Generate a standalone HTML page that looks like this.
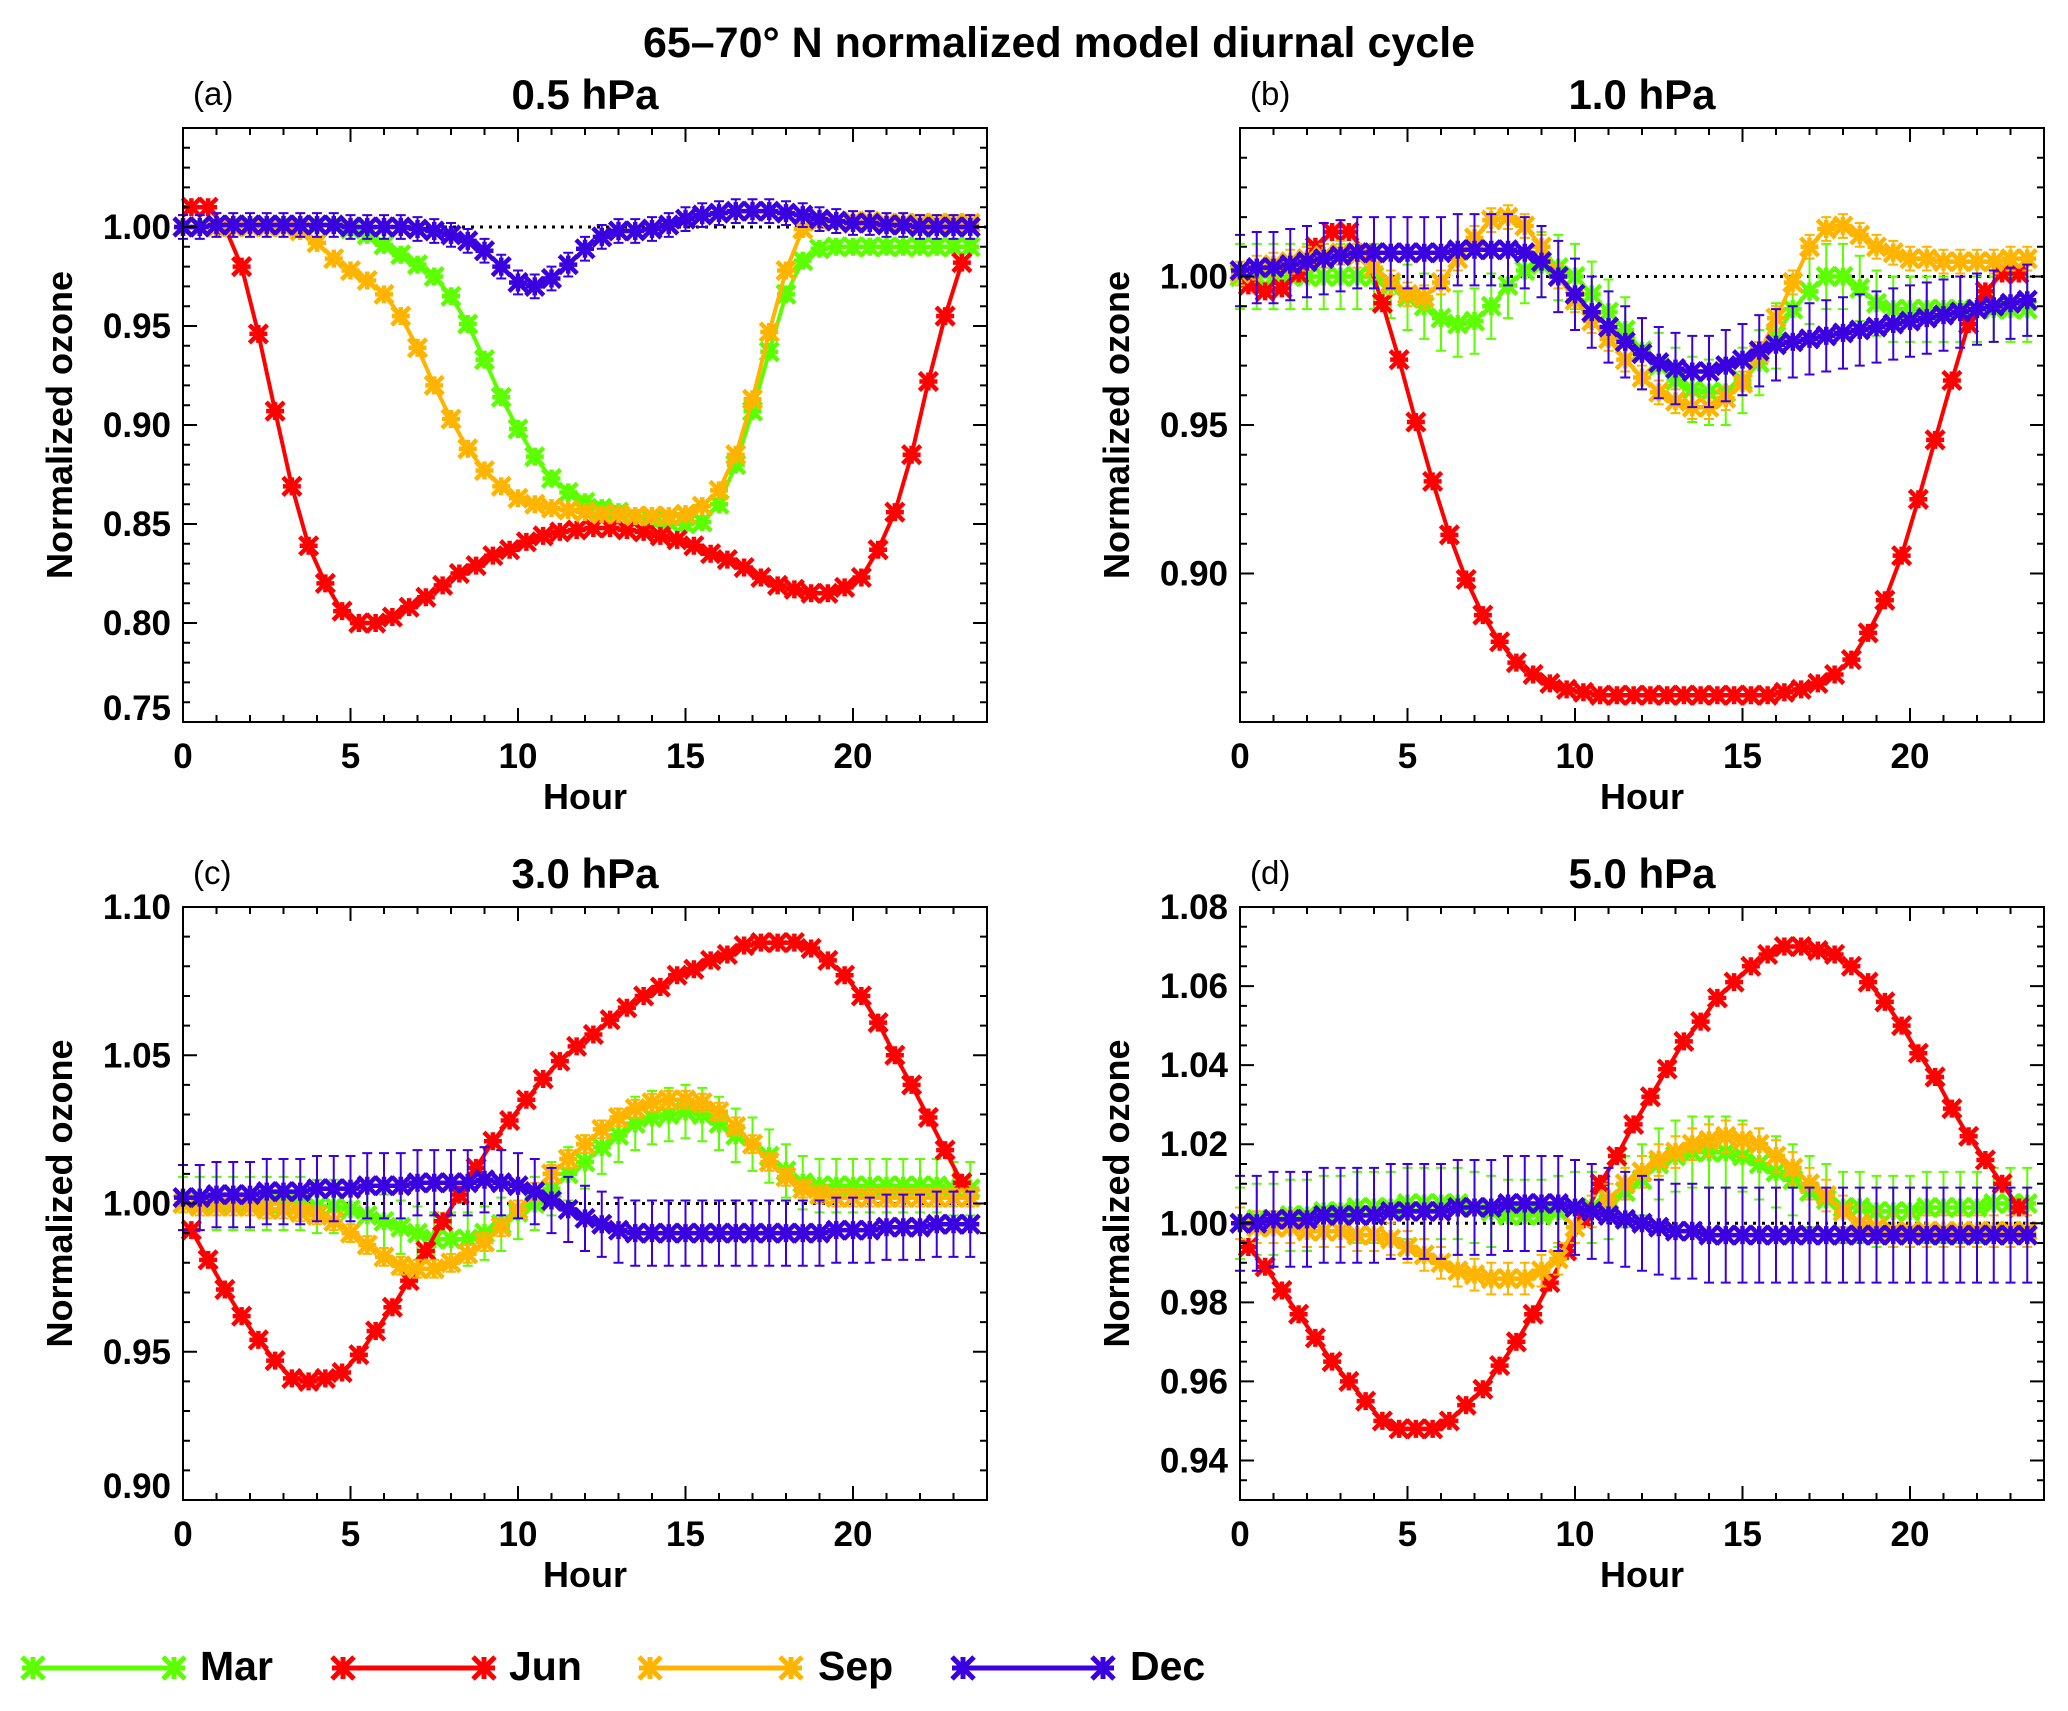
<!DOCTYPE html>
<html><head><meta charset="utf-8"><style>
html,body{margin:0;padding:0;background:#fff;}
svg{display:block;font-family:"Liberation Sans",Arial,sans-serif;}
</style></head><body>
<svg id="chart" width="2068" height="1711" viewBox="0 0 2068 1711" xmlns="http://www.w3.org/2000/svg">
<rect width="2068" height="1711" fill="#fff"/>
<text x="1059" y="57" text-anchor="middle" font-size="43" font-weight="bold">65–70° N normalized model diurnal cycle</text>
<g id="panels"></g>
<g id="legend"></g>
</svg>
<script>
const hours=[];for(let i=0;i<48;i++)hours.push(i*0.5);
const hoursJun=[];for(let i=0;i<47;i++)hoursJun.push(0.25+i*0.5);
const months=["Mar","Jun","Sep","Dec"];
const colors=["#5dff00","#ff0000","#ffb400","#3a00e0"];
const panelTitles=["0.5 hPa","1.0 hPa","3.0 hPa","5.0 hPa"];
const panelLetters=["(a)","(b)","(c)","(d)"];
const xTicks=[0,5,10,15,20];

// Panel a
const aMar=[1.000,1.000,1.000,1.001,1.001,1.001,1.001,1.001,1.001,1.001,0.999,0.996,0.991,0.986,0.981,0.975,0.965,0.951,0.933,0.914,0.898,0.884,0.873,0.866,0.861,0.858,0.856,0.854,0.852,0.851,0.850,0.851,0.860,0.880,0.907,0.937,0.966,0.983,0.989,0.990,0.990,0.990,0.990,0.990,0.990,0.990,0.990,0.990];
const aJun=[1.010,1.010,1.000,0.980,0.946,0.907,0.869,0.839,0.820,0.806,0.800,0.800,0.803,0.808,0.813,0.819,0.825,0.829,0.834,0.837,0.841,0.844,0.846,0.847,0.848,0.848,0.847,0.846,0.844,0.842,0.839,0.835,0.832,0.828,0.823,0.819,0.817,0.815,0.815,0.818,0.823,0.837,0.856,0.885,0.922,0.955,0.982];
const aSep=[1.000,1.000,1.000,1.000,1.000,1.000,1.000,0.998,0.992,0.984,0.978,0.973,0.966,0.955,0.939,0.920,0.903,0.888,0.877,0.869,0.863,0.860,0.858,0.857,0.856,0.855,0.855,0.854,0.854,0.854,0.855,0.859,0.867,0.885,0.913,0.947,0.978,0.999,1.003,1.003,1.003,1.003,1.002,1.002,1.002,1.002,1.002,1.002];
const aDec=[1.000,1.000,1.001,1.001,1.001,1.001,1.001,1.001,1.001,1.001,1.000,1.000,1.000,1.000,0.999,0.998,0.996,0.993,0.988,0.980,0.972,0.970,0.974,0.981,0.989,0.995,0.998,0.998,0.999,1.001,1.004,1.006,1.007,1.008,1.008,1.008,1.007,1.006,1.004,1.003,1.002,1.002,1.001,1.001,1.000,1.000,1.000,1.000];
const aErr=[0.003,0.0,0.002,0.006];
// Panel b
const bMar=[1.000,1.000,1.000,1.000,1.000,1.000,1.000,1.000,1.000,0.997,0.993,0.990,0.986,0.984,0.985,0.990,0.997,1.002,1.004,1.003,1.000,0.994,0.988,0.982,0.975,0.970,0.965,0.962,0.961,0.961,0.965,0.971,0.980,0.989,0.995,1.000,1.000,0.996,0.991,0.989,0.989,0.989,0.989,0.989,0.989,0.989,0.989,0.989];
const bJun=[0.997,0.995,0.996,1.001,1.010,1.015,1.015,1.008,0.991,0.972,0.951,0.931,0.913,0.898,0.886,0.877,0.870,0.866,0.863,0.861,0.860,0.859,0.859,0.859,0.859,0.859,0.859,0.859,0.859,0.859,0.859,0.859,0.860,0.861,0.863,0.866,0.871,0.880,0.891,0.906,0.925,0.945,0.965,0.984,0.995,1.001,1.001];
const bSep=[1.001,1.003,1.004,1.005,1.006,1.007,1.008,1.007,1.003,0.998,0.994,0.993,0.998,1.006,1.013,1.019,1.020,1.017,1.010,1.000,0.992,0.985,0.979,0.972,0.966,0.961,0.958,0.956,0.956,0.959,0.964,0.974,0.986,0.998,1.010,1.016,1.017,1.014,1.010,1.008,1.006,1.006,1.005,1.005,1.005,1.005,1.006,1.006];
const bDec=[1.002,1.003,1.003,1.004,1.005,1.006,1.007,1.008,1.008,1.008,1.008,1.008,1.008,1.009,1.009,1.009,1.009,1.008,1.005,1.000,0.994,0.988,0.983,0.978,0.974,0.971,0.969,0.968,0.968,0.970,0.972,0.975,0.977,0.978,0.979,0.980,0.981,0.982,0.983,0.984,0.985,0.986,0.987,0.988,0.989,0.990,0.991,0.992];
const bErr=[0.011,0.0,0.004,0.012];
// Panel c
const cMar=[1.000,1.000,1.000,1.000,1.000,1.000,1.000,1.000,0.999,0.999,0.998,0.996,0.994,0.992,0.990,0.988,0.988,0.988,0.990,0.993,0.997,1.000,1.005,1.010,1.014,1.019,1.023,1.027,1.029,1.030,1.031,1.030,1.027,1.023,1.020,1.016,1.011,1.007,1.006,1.006,1.006,1.006,1.006,1.006,1.006,1.006,1.005,1.005];
const cJun=[0.991,0.981,0.971,0.962,0.954,0.947,0.941,0.940,0.941,0.943,0.949,0.957,0.965,0.974,0.984,0.994,1.003,1.012,1.021,1.028,1.035,1.042,1.048,1.053,1.057,1.062,1.066,1.070,1.073,1.077,1.079,1.082,1.084,1.087,1.088,1.088,1.088,1.086,1.082,1.077,1.070,1.061,1.050,1.040,1.029,1.018,1.007];
const cSep=[1.000,0.999,0.999,0.999,0.999,0.998,0.998,0.997,0.996,0.994,0.990,0.986,0.982,0.979,0.978,0.978,0.980,0.983,0.987,0.992,0.998,1.004,1.010,1.015,1.020,1.025,1.029,1.032,1.034,1.035,1.035,1.034,1.031,1.026,1.020,1.014,1.009,1.005,1.003,1.002,1.002,1.002,1.002,1.002,1.002,1.002,1.002,1.002];
const cDec=[1.002,1.002,1.003,1.003,1.003,1.004,1.004,1.004,1.005,1.005,1.005,1.006,1.006,1.006,1.007,1.007,1.007,1.007,1.008,1.007,1.006,1.004,1.001,0.998,0.995,0.993,0.991,0.990,0.990,0.990,0.990,0.990,0.990,0.990,0.990,0.990,0.990,0.990,0.990,0.991,0.991,0.991,0.992,0.992,0.992,0.993,0.993,0.993];
const cErr=[0.009,0.0,0.003,0.011];
// Panel d
const dMar=[1.000,1.001,1.001,1.002,1.002,1.003,1.003,1.004,1.004,1.004,1.005,1.005,1.005,1.005,1.004,1.003,1.002,1.002,1.002,1.003,1.004,1.004,1.005,1.008,1.011,1.015,1.017,1.018,1.018,1.018,1.017,1.015,1.013,1.011,1.008,1.006,1.004,1.004,1.003,1.003,1.003,1.004,1.004,1.004,1.004,1.005,1.005,1.005];
const dJun=[0.994,0.989,0.983,0.977,0.971,0.965,0.960,0.955,0.950,0.948,0.948,0.948,0.950,0.954,0.958,0.964,0.970,0.977,0.985,0.993,1.001,1.010,1.017,1.025,1.032,1.039,1.046,1.051,1.057,1.061,1.065,1.068,1.070,1.070,1.069,1.068,1.065,1.061,1.056,1.050,1.043,1.037,1.029,1.022,1.016,1.010,1.004];
const dSep=[1.000,0.999,0.999,0.999,0.998,0.998,0.998,0.997,0.997,0.996,0.994,0.992,0.990,0.988,0.987,0.986,0.986,0.986,0.988,0.991,0.999,1.003,1.006,1.010,1.013,1.016,1.018,1.020,1.021,1.022,1.021,1.020,1.017,1.014,1.010,1.007,1.003,1.000,0.999,0.998,0.998,0.998,0.998,0.998,0.998,0.998,0.998,0.998];
const dDec=[1.000,1.000,1.001,1.001,1.001,1.002,1.002,1.002,1.002,1.003,1.003,1.003,1.003,1.004,1.004,1.004,1.005,1.005,1.005,1.005,1.004,1.003,1.002,1.001,1.000,0.999,0.998,0.998,0.997,0.997,0.997,0.997,0.997,0.997,0.997,0.997,0.997,0.997,0.997,0.997,0.997,0.997,0.997,0.997,0.997,0.997,0.997,0.997];
const dErr=[0.009,0.0,0.004,0.012];

const aYTicks=[0.75,0.80,0.85,0.90,0.95,1.00];
const bYTicks=[0.90,0.95,1.00];
const cYTicks=[0.90,0.95,1.00,1.05,1.10];
const dYTicks=[0.94,0.96,0.98,1.00,1.02,1.04,1.06,1.08];

const panels=[
 {box:[183,987,128,722],yr:[0.75,1.05],ticks:aYTicks,minor:0.01,data:[aMar,aJun,aSep,aDec],err:aErr},
 {box:[1240,2044,128,722],yr:[0.85,1.05],ticks:bYTicks,minor:0.01,data:[bMar,bJun,bSep,bDec],err:bErr},
 {box:[183,987,907,1500],yr:[0.90,1.10],ticks:cYTicks,minor:0.01,data:[cMar,cJun,cSep,cDec],err:cErr},
 {box:[1240,2044,907,1500],yr:[0.93,1.08],ticks:dYTicks,minor:0.005,data:[dMar,dJun,dSep,dDec],err:dErr}
];
const NS="http://www.w3.org/2000/svg";
function mk(tag,attrs,parent){const e=document.createElementNS(NS,tag);for(const k in attrs)e.setAttribute(k,attrs[k]);parent.appendChild(e);return e;}
function star(g,x,y,r,c,w){
  const d=`M${x-r},${y-r}L${x+r},${y+r}M${x-r},${y+r}L${x+r},${y-r}M${x-r},${y}L${x+r},${y}M${x},${y-r}L${x},${y+r}`;
  mk('path',{d:d,stroke:c,'stroke-width':w||4.5,fill:'none'},g);
}
const root=document.getElementById('panels');
panels.forEach((p,pi)=>{
  const [L,R,T,B]=p.box;
  const g=mk('g',{},root);
  
  
  const xs=h=>L+(h/24)*(R-L);
  const ys=v=>B-(v-p.yr[0])/(p.yr[1]-p.yr[0])*(B-T);
  const t1=mk('text',{x:(L+R)/2,y:T-19,'text-anchor':'middle','font-size':42,'font-weight':'bold'},g);t1.textContent=panelTitles[pi];
  
  const t2=mk('text',{x:L+10,y:T-23,'font-size':33},g);t2.textContent=panelLetters[pi];
  
  const rl=mk('line',{x1:L,x2:R,y1:ys(1),y2:ys(1),stroke:'#000','stroke-width':3,'stroke-dasharray':'3 6'},g);
  
  p.data.forEach((vals,si)=>{
    const sg=mk('g',{},g);
    
    
    const hs=si===1?hoursJun:hours;
    const c=colors[si];const e=p.err[si];
    if(e>0){
      vals.forEach((v,i)=>{
        const x=xs(hs[i]),y1=ys(v+e),y2=ys(v-e);
        mk('path',{d:`M${x},${y1}L${x},${y2}M${x-5},${y1}L${x+5},${y1}M${x-5},${y2}L${x+5},${y2}`,stroke:c,'stroke-width':2,fill:'none'},sg);
      });
    }
    mk('polyline',{points:vals.map((v,i)=>xs(hs[i]).toFixed(1)+','+ys(v).toFixed(1)).join(' '),fill:'none',stroke:c,'stroke-width':4},sg);
    vals.forEach((v,i)=>star(sg,xs(hs[i]),ys(v),9,c));
  });
  const bx=mk('rect',{x:L,y:T,width:R-L,height:B-T,fill:'none',stroke:'#000','stroke-width':2},g);
  
  let tk='';
  for(let h=0;h<=24;h++){const x=xs(h);const len=h%5===0?14:7;tk+=`M${x},${B}L${x},${B-len}M${x},${T}L${x},${T+len}`;}
  const n=Math.round((p.yr[1]-p.yr[0])/p.minor);
  for(let k=0;k<=n;k++){const v=p.yr[0]+k*p.minor;const y=ys(v);
    const isMaj=p.ticks.some(t=>Math.abs(t-v)<1e-6)||(pi===1&&Math.abs(v-0.85)<1e-6)||(pi===0&&Math.abs(v-1.05)<1e-6);
    const len=isMaj?14:7;tk+=`M${L},${y}L${L+len},${y}M${R},${y}L${R-len},${y}`;}
  mk('path',{d:tk,stroke:'#000','stroke-width':2,fill:'none'},g);
  xTicks.forEach(h=>{const t=mk('text',{x:xs(h),y:B+46,'text-anchor':'middle','font-size':35,'font-weight':'bold'},g);t.textContent=h;
    });
  p.ticks.forEach(v=>{let y=ys(v)+12;if(Math.abs(v-p.yr[0])<1e-6)y-=14;
    const t=mk('text',{x:L-12,y:y,'text-anchor':'end','font-size':35,'font-weight':'bold'},g);t.textContent=v.toFixed(2);
    });
  const xt=mk('text',{x:(L+R)/2,y:B+87,'text-anchor':'middle','font-size':36,'font-weight':'bold'},g);xt.textContent='Hour';
  
  const cy=(T+B)/2+(pi>=2?-10:0);
  const yt=mk('text',{x:L-111,y:cy,'text-anchor':'middle','font-size':36,'font-weight':'bold',transform:`rotate(-90 ${L-111} ${cy})`},g);yt.textContent='Normalized ozone';
  
});
const lg=document.getElementById('legend');
const legX=[[33,174,200],[343,484,509],[650,791,818],[963,1103,1130]];
months.forEach((m,i)=>{
  const g=mk('g',{},lg);
  
  
  const [a,b,tx]=legX[i];const y=1668;
  mk('line',{x1:a,x2:b,y1:y,y2:y,stroke:colors[i],'stroke-width':5},g);
  star(g,a,y,11,colors[i],5);star(g,b,y,11,colors[i],5);
  const t=mk('text',{x:tx,y:y+12,'font-size':41,'font-weight':'bold'},g);t.textContent=m;
});
</script>
</body></html>
